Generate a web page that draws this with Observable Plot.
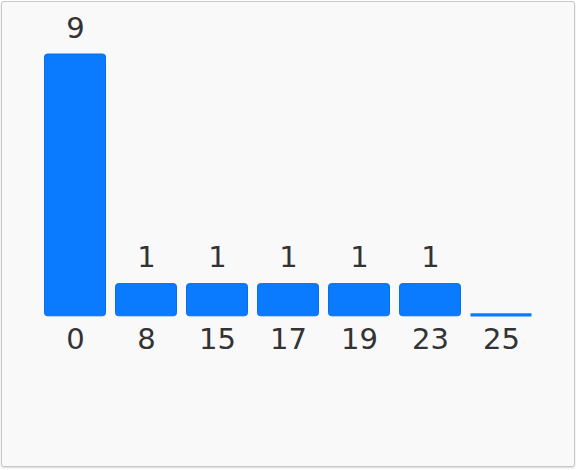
<!DOCTYPE html>
<html>
<head>
<meta charset="utf-8">
<script src="https://cdn.jsdelivr.net/npm/d3@7"></script>
<script src="https://cdn.jsdelivr.net/npm/@observablehq/plot@0.6"></script>
<style>
  html, body { margin: 0; padding: 0; background: #ffffff; }
  #frame {
    position: absolute; left: 1px; top: 1px;
    width: 572px; height: 464px;
    border: 1px solid #c8c8c8; border-radius: 3px;
    background: #f9f9f9;
    box-shadow: 0 1px 2px rgba(0,0,0,0.15);
  }
  #chart { position: absolute; left: 0; top: 0; }
</style>
</head>
<body>
<div id="frame"></div>
<div id="chart"></div>
<script>
const categories = ["0", "8", "15", "17", "19", "23", "25"];
const counts = [9, 1, 1, 1, 1, 1, 0];

const data = categories.map((c, i) => ({category: c, count: counts[i]}));
const barColor = "#0a7bff";
const edgeColor = "#0a6ee6";
const font = "'DejaVu Sans', Verdana, sans-serif";

const plot = Plot.plot({
  width: 576,
  height: 470,
  marginLeft: 38,
  marginRight: 37,
  marginTop: 54,
  marginBottom: 157.7,
  style: {background: "transparent", fontFamily: font, fontSize: "29px", color: "#333"},
  x: {domain: categories, paddingInner: 0.12, paddingOuter: 0.06, label: null},
  y: {domain: [0, 9], axis: null},
  marks: [
    Plot.barY(data.filter(d => d.count > 0), {
      x: "category", y: "count",
      fill: barColor, stroke: edgeColor, strokeWidth: 1,
      rx: 3, insetLeft: 0.5, insetRight: 0.5, insetBottom: -3.5
    }),
    Plot.tickY(data.filter(d => d.count === 0), {
      x: "category", y: "count",
      stroke: barColor, strokeWidth: 3.3, dy: 2, insetLeft: 0.5, insetRight: 0.5
    }),
    Plot.text(data.filter(d => d.count > 0), {
      x: "category", y: "count", text: d => String(d.count),
      lineAnchor: "bottom", dy: -17, fill: "#333", fontSize: 29
    }),
    Plot.axisX({
      tickSize: 0, tickPadding: 16, fontSize: 29, fill: "#333", label: null
    })
  ]
});
document.getElementById("chart").appendChild(plot);
</script>
</body>
</html>
